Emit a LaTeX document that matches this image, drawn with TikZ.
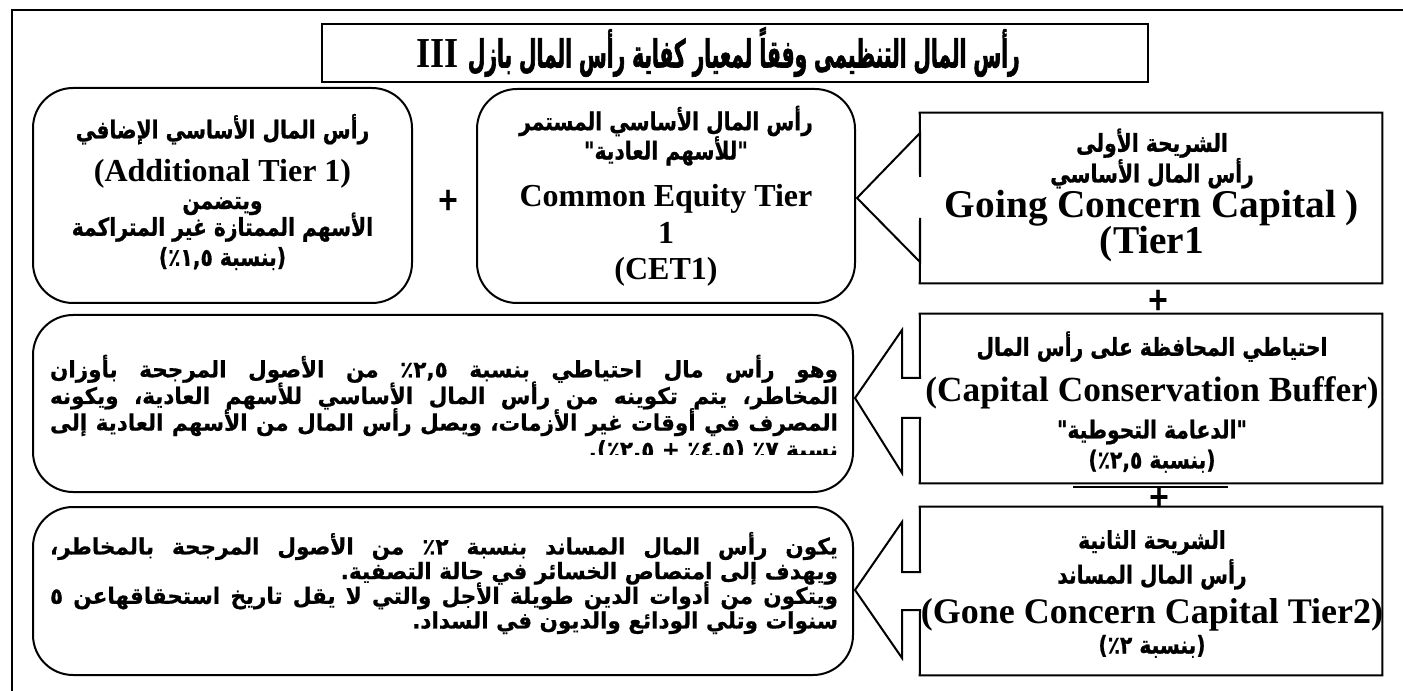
\documentclass[tikz,border=0pt]{standalone}
\usepackage{fontspec}
\TeXXeTstate=1
\newfontfamily\arf[Script=Arabic,FakeStretch=0.82,FakeBold=0.8]{DejaVu Sans}
\newfontfamily\arp[Script=Arabic,FakeStretch=0.95,FakeBold=0.6]{DejaVu Sans}
\newfontfamily\art[Script=Arabic,FakeStretch=0.52,FakeBold=1.5]{DejaVu Sans}
\newfontfamily\enf{Liberation Serif}
\newlength\PW
\setlength\PW{591pt}
\newcommand\AR[1]{{\arf\bfseries\beginR #1\endR}}
\newcommand\EN[2]{{\enf\bfseries\fontsize{#1}{#1}\selectfont #2}}
\newcommand\FL[1]{\hbox to \PW{\beginR #1\endR}}
\newcommand\SL[1]{\hbox to \PW{\hfil\beginR #1\endR}}
\begin{document}
\begin{tikzpicture}[x=0.75pt,y=-0.75pt,
  frame/.style={line width=2.2pt},
  ttl/.style={draw, line width=2pt, minimum width=826*0.75pt, minimum height=58*0.75pt, inner sep=0pt},
  rbox/.style={draw, line width=1.5pt, rounded corners=30pt, inner sep=0pt},
  txt/.style={inner sep=0pt, align=center, font={\arf\bfseries\fontsize{18.5}{20}\selectfont\lineskiplimit=-50pt}},
  ptxt/.style={inner sep=0pt, font={\arp\bfseries\fontsize{17}{20}\selectfont\lineskiplimit=-50pt}},
  cl/.style={line width=1.5pt},
  plus/.style={inner sep=0pt, font=\arf\bfseries\fontsize{24}{24}\selectfont}]
\useasboundingbox (0,0) rectangle (1403,691);
% outer frame
\draw[frame] (12,691) -- (12,10) -- (1403,10);
% title
\node[ttl] (titlebox) at (735,53) {};
\node[inner sep=0pt, font={\art\bfseries\fontsize{29}{29}\selectfont}] (title) at (718,52) {\hbox{\scalebox{0.85}[1]{\enf\bfseries\fontsize{32}{32}\selectfont III}\kern7pt\beginR رأس المال التنظيمى وفقاً لمعيار كفاية رأس المال بازل\endR}};
% top-left
\node[rbox, minimum width=379*0.75pt, minimum height=215*0.75pt] (at1box) at (222.5,195.5) {};
\node[txt] (at1) at (222.5,192) {\AR{رأس المال الأساسي الإضافي}\\[12pt]
  \EN{24}{(Additional Tier 1)}\\[1pt]
  \AR{ويتضمن}\\
  \AR{الأسهم الممتازة غير المتراكمة}\\[2.5pt]
  \AR{(بنسبة ١,٥٪)}};
\node[plus] (p1) at (448,200) {+};
% top-middle
\node[rbox, minimum width=378*0.75pt, minimum height=214*0.75pt] (cetbox) at (666,196) {};
\node[txt] (cet) at (666,196) {\AR{رأس المال الأساسي المستمر}\\[2pt]
  \AR{"للأسهم العادية"}\\[15pt]
  \EN{24}{Common Equity Tier}\\[8pt]
  \EN{24}{1}\\[7pt]
  \EN{24}{(CET1)}};
% right top callout
\node[minimum width=462*0.75pt, minimum height=170*0.75pt, inner sep=0pt] (gcbox) at (1151,198) {};
\draw[cl] (gcbox.north east) -- (gcbox.north west) -- (920,177) -- (920,133) -- (857,198) -- (920,262) -- (920,218) -- (gcbox.south west) -- (gcbox.south east) -- cycle;
\node[txt] (gc) at (1152,195) {\AR{الشريحة الأولى}\\[3pt]
  \AR{رأس المال الأساسي}\\[6pt]
  \EN{29.5}{Going Concern Capital )}\\[7pt]
  \EN{29.5}{(Tier1}};
\node[plus] (p2) at (1158,300) {+};
% right middle callout
\node[minimum width=462*0.75pt, minimum height=169*0.75pt, inner sep=0pt] (ccbbox) at (1151,398.5) {};
\draw[cl] (ccbbox.north east) -- (ccbbox.north west) -- (920,378) -- (902,378) -- (902,330) -- (855,398) -- (902,473) -- (902,418) -- (920,418) -- (ccbbox.south west) -- (ccbbox.south east) -- cycle;
\node[txt] (ccb) at (1152,402) {\AR{احتياطي المحافظة على رأس المال}\\[14pt]
  \EN{26.5}{(Capital Conservation Buffer)}\\[8pt]
  \AR{"الدعامة التحوطية"}\\[2.5pt]
  \AR{(بنسبة ٢,٥٪)}};
\draw[line width=0.8pt] (1073,487) -- (1228,487);
\node[plus] (p3) at (1159,497) {+};
% right bottom callout
\node[minimum width=462*0.75pt, minimum height=168*0.75pt, inner sep=0pt] (t2box) at (1151,591) {};
\draw[cl] (t2box.north east) -- (t2box.north west) -- (920,572) -- (902,572) -- (902,522) -- (855,590) -- (902,658) -- (902,610) -- (920,610) -- (t2box.south west) -- (t2box.south east) -- cycle;
\node[txt] (t2) at (1152,594) {\AR{الشريحة الثانية}\\[6pt]
  \AR{رأس المال المساند}\\[10pt]
  \EN{27}{(Gone Concern Capital Tier2)}\\[2.5pt]
  \AR{(بنسبة ٢٪)}};
% middle-left description (last line partly clipped as in the reference)
\node[rbox, minimum width=820*0.75pt, minimum height=177*0.75pt] (ccdbox) at (443,403.5) {};
\begin{scope}
\clip (40,320) rectangle (850,455);
\node[ptxt] (ccd) at (444,408) {\vbox{\baselineskip=20pt
  \FL{وهو رأس مال احتياطي بنسبة ٢,٥٪ من الأصول المرجحة بأوزان}
  \FL{المخاطر، يتم تكوينه من رأس المال الأساسي للأسهم العادية، ويكونه}
  \FL{المصرف في أوقات غير الأزمات، ويصل رأس المال من الأسهم العادية إلى}
  \SL{نسبة ٧٪ (٤,٥٪ + ٢,٥٪).}}};
\end{scope}
% bottom-left description
\node[rbox, minimum width=820*0.75pt, minimum height=168*0.75pt] (t2dbox) at (443,591) {};
\node[ptxt] (t2d) at (444,583) {\vbox{\baselineskip=18.5pt
  \FL{يكون رأس المال المساند بنسبة ٢٪ من الأصول المرجحة بالمخاطر،}
  \SL{ويهدف إلى امتصاص الخسائر في حالة التصفية.}
  \FL{ويتكون من أدوات الدين طويلة الأجل والتي لا يقل تاريخ استحقاقهاعن ٥}
  \SL{سنوات وتلي الودائع والديون في السداد.}}};
\end{tikzpicture}
\end{document}
